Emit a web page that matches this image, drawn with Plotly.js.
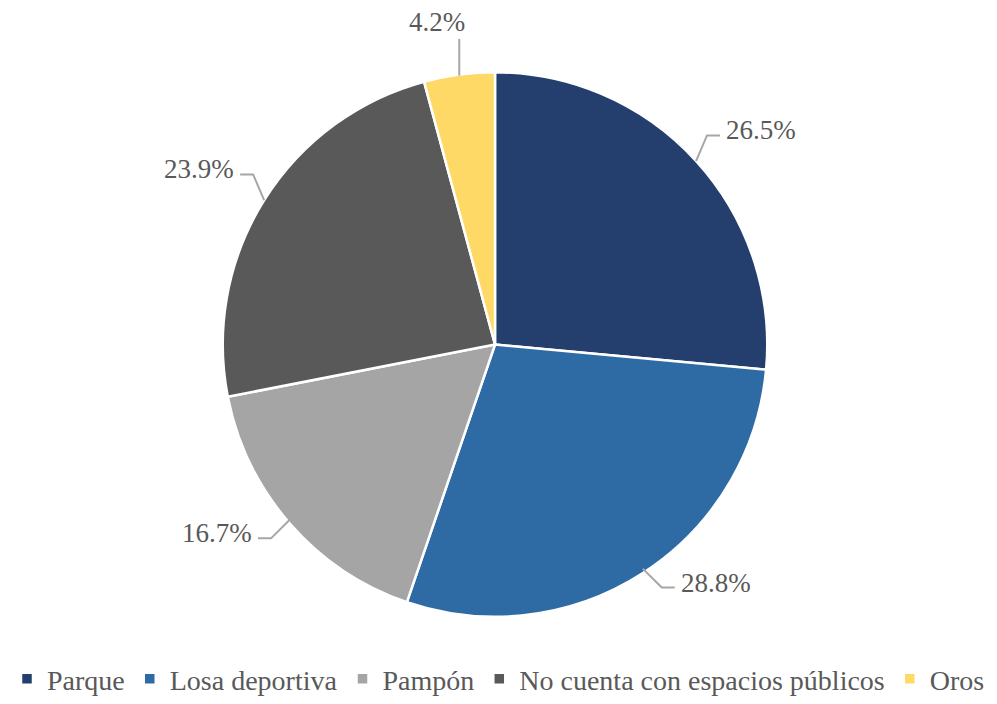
<!DOCTYPE html>
<html>
<head>
<meta charset="utf-8">
<script src="https://cdn.plot.ly/plotly-3.0.1.min.js"></script>
<style>html,body{margin:0;padding:0;background:#fff;}#chart{width:997px;height:704px;}</style>
</head>
<body>
<div id="chart"></div>
<script>
const categories = ["Parque", "Losa deportiva", "Pampón", "No cuenta con espacios públicos", "Oros"];
const values = [26.5, 28.8, 16.7, 23.9, 4.2];
const labelsText = ["26.5%", "28.8%", "16.7%", "23.9%", "4.2%"];
const colors = ["#243F6E", "#2E6BA4", "#A5A5A5", "#595959", "#FFD966"];

const W = 997, H = 704;
const cx = 495, cy = 346, R = 272;
const Rdom = 275, cyDom = 348;
const domX = [(cx - Rdom) / W, (cx + Rdom) / W];
const domY = [1 - (cyDom + Rdom) / H, 1 - (cyDom - Rdom) / H];

const total = values.reduce((a, b) => a + b, 0);
const annotations = [];
const shapes = [];
let cum = 0;
const fontFam = "Liberation Serif";
const lineColor = "#A6A6A6";
values.forEach((v, i) => {
  const mid = (cum + v / 2) / total * 2 * Math.PI;
  cum += v;
  const s = Math.sin(mid), c = Math.cos(mid);
  const px = cx + R * s, py = cy - R * c;
  if (Math.abs(s) < 0.2) {
    shapes.push({type: "path", xref: "paper", yref: "paper",
      path: `M ${px / W} ${1 - py / H} L ${px / W} ${1 - (py - 37) / H}`,
      line: {color: lineColor, width: 2}});
    annotations.push({x: (px - 22) / W, y: 1 - (py - 37) / H, xref: "paper", yref: "paper",
      text: labelsText[i], showarrow: false, xanchor: "center", yanchor: "bottom",
      font: {family: fontFam, size: 27, color: "#595959"}});
  } else {
    const dir = s > 0 ? 1 : -1;
    // upper leaders are steep, lower leaders run at 45 degrees
    const dx = c > 0 ? dir * 11 : dir * 19;
    const dy = c > 0 ? -26 : 19;
    const qx = px + dx, qy = py + dy;
    const ex = qx + dir * 13;
    shapes.push({type: "path", xref: "paper", yref: "paper",
      path: `M ${px / W} ${1 - py / H} L ${qx / W} ${1 - qy / H} L ${ex / W} ${1 - qy / H}`,
      line: {color: lineColor, width: 2}});
    annotations.push({x: (ex + dir * 4) / W, y: 1 - (qy - 5) / H, xref: "paper", yref: "paper",
      text: labelsText[i], showarrow: false, xanchor: dir > 0 ? "left" : "right", yanchor: "middle",
      font: {family: fontFam, size: 27, color: "#595959"}});
  }
});

const data = [{
  type: "pie",
  labels: categories,
  values: values,
  sort: false,
  direction: "clockwise",
  rotation: 0,
  textinfo: "none",
  hoverinfo: "label+percent",
  marker: {colors: colors, line: {color: "#FFFFFF", width: 2.5}},
  domain: {x: domX, y: domY}
}];

const layout = {
  width: W, height: H,
  margin: {l: 0, r: 0, t: 0, b: 0},
  paper_bgcolor: "#FFFFFF",
  font: {family: fontFam},
  showlegend: true,
  legend: {orientation: "h", x: 0.5, xanchor: "center", y: 1 - 686 / H, yanchor: "middle",
    font: {family: fontFam, size: 28, color: "#595959"}, itemwidth: 30, tracegroupgap: 0},
  annotations: annotations,
  shapes: shapes
};

Plotly.newPlot("chart", data, layout, {displayModeBar: false, staticPlot: true});
</script>
</body>
</html>
